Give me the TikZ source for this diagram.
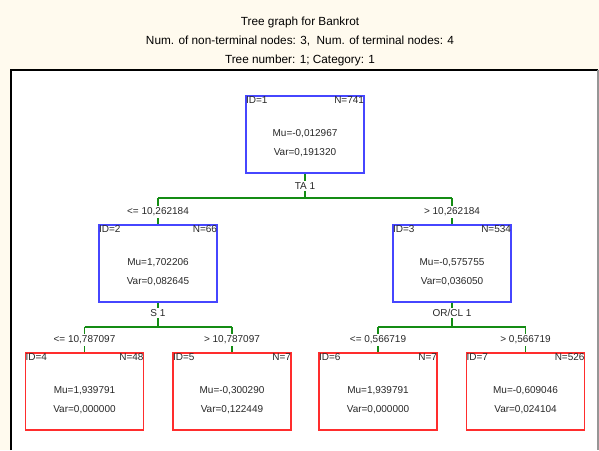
\documentclass[tikz,border=0pt]{standalone}
\usepackage{fontspec}
\setmainfont{Liberation Sans}
\definecolor{cream}{RGB}{255,250,238}
\definecolor{nodeblue}{RGB}{70,70,255}
\definecolor{leafred}{RGB}{255,45,45}
\definecolor{splitgreen}{RGB}{20,140,20}
\definecolor{framegrey}{RGB}{150,150,150}
\definecolor{textgrey}{RGB}{40,40,40}

\tikzset{
  box/.style={line width=1.6pt, fill=white, minimum width=118pt,
    minimum height=77pt, inner sep=0pt},
  splitbox/.style={box, draw=nodeblue},
  leafbox/.style={box, draw=leafred},
  txt/.style={font=\fontsize{10}{12}\selectfont, text=textgrey, inner sep=0pt},
  titletxt/.style={font=\fontsize{11.8}{14}\selectfont, text=black, inner sep=0pt},
  edge/.style={draw=splitgreen, line width=1.3pt},
  lbl/.style={txt, fill=white, inner xsep=1pt, inner ysep=1.5pt},
}

% one tree node: name, style, centre x, top y, id, n, mu, var
\newcommand\treebox[8]{%
  \node[#2, anchor=north] (#1) at (#3,#4) {};
  \node[txt, anchor=north west] (#1id) at ([xshift=0.6pt,yshift=-1.5pt]#1.north west) {ID=#5};
  \node[txt, anchor=north east] (#1n) at ([xshift=-0.6pt,yshift=-1.5pt]#1.north east) {N=#6};
  \node[txt] (#1mu) at ([yshift=-39pt]#1.north) {Mu=#7};
  \node[txt] (#1var) at ([yshift=-58pt]#1.north) {Var=#8};
}

\begin{document}
\begin{tikzpicture}[x=1pt, y=-1pt]
  \useasboundingbox (0,0) rectangle (599,450);
  % page background and plotting frame
  \fill[cream] (0,0) rectangle (599,450);
  \fill[white] (11,70) rectangle (598,450);
  \draw[black, line width=1.4pt] (11,450) -- (11,70) -- (598,70);
  \draw[framegrey, line width=1.4pt] (598,70) -- (598,450);

  % heading
  \node[titletxt] (title1) at (300,22) {Tree graph for Bankrot};
  \node[titletxt] (title2) at (300,41) {Num. of non-terminal nodes: 3,\ \ Num. of terminal nodes: 4};
  \node[titletxt] (title3) at (300,60) {Tree number: 1; Category: 1};

  % split bars
  \coordinate (bar1) at (0,198);
  \coordinate (bar2) at (0,327);

  % nodes
  \treebox{n1}{splitbox}{305}{95}{1}{741}{-0,012967}{0,191320}
  \treebox{n2}{splitbox}{158}{224}{2}{66}{1,702206}{0,082645}
  \treebox{n3}{splitbox}{452}{224}{3}{534}{-0,575755}{0,036050}
  \treebox{n4}{leafbox}{84.5}{352}{4}{48}{1,939791}{0,000000}
  \treebox{n5}{leafbox}{232}{352}{5}{7}{-0,300290}{0,122449}
  \treebox{n6}{leafbox}{378}{352}{6}{7}{1,939791}{0,000000}
  \treebox{n7}{leafbox}{525.5}{352}{7}{526}{-0,609046}{0,024104}

  % connectors
  \draw[edge] (n1.south) -- (n1.south |- bar1);
  \draw[edge] (bar1 -| n2.north) -- (bar1 -| n3.north);
  \draw[edge] (bar1 -| n2.north) -- (n2.north);
  \draw[edge] (bar1 -| n3.north) -- (n3.north);

  \draw[edge] (n2.south) -- (n2.south |- bar2);
  \draw[edge] (bar2 -| n4.north) -- (bar2 -| n5.north);
  \draw[edge] (bar2 -| n4.north) -- (n4.north);
  \draw[edge] (bar2 -| n5.north) -- (n5.north);

  \draw[edge] (n3.south) -- (n3.south |- bar2);
  \draw[edge] (bar2 -| n6.north) -- (bar2 -| n7.north);
  \draw[edge] (bar2 -| n6.north) -- (n6.north);
  \draw[edge] (bar2 -| n7.north) -- (n7.north);

  % split variables and conditions
  \node[lbl] (s1) at (305,186) {TA 1};
  \node[lbl] (s2) at (158,313) {S 1};
  \node[lbl] (s3) at (452,313) {OR/CL 1};
  \node[lbl] (c2) at (158,212) {<= 10,262184};
  \node[lbl] (c3) at (452,212) {> 10,262184};
  \node[lbl] (c4) at (84.5,340) {<= 10,787097};
  \node[lbl] (c5) at (232,340) {> 10,787097};
  \node[lbl] (c6) at (378,340) {<= 0,566719};
  \node[lbl] (c7) at (525.5,340) {> 0,566719};
\end{tikzpicture}
\end{document}
